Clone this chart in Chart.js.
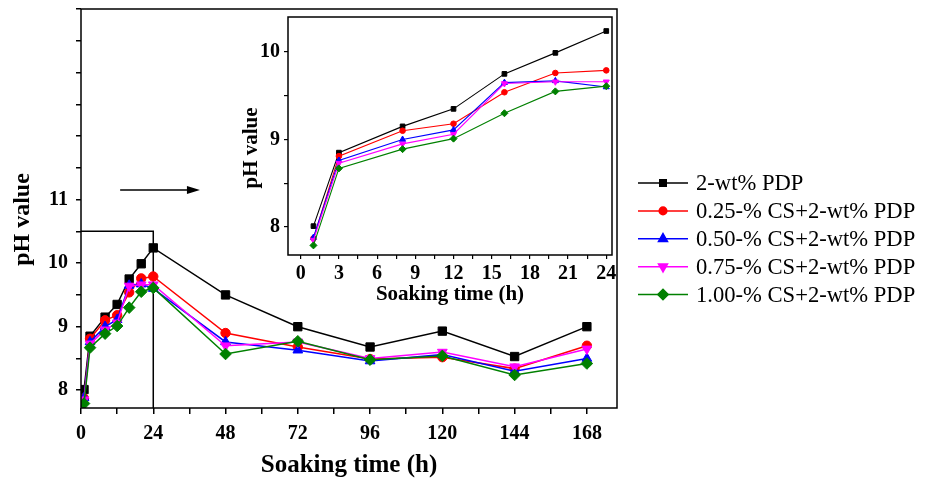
<!DOCTYPE html>
<html>
<head>
<meta charset="utf-8">
<script src="https://cdn.jsdelivr.net/npm/chart.js@4.4.1/dist/chart.umd.min.js"></script>
<style>
  html, body { margin: 0; padding: 0; background: #fff; }
  #wrap  { position: relative; width: 928px; height: 478px; overflow: hidden; }
  #main  { position: absolute; left: 0; top: 0; }
  #inset { position: absolute; left: 230px; top: 12px; }
</style>
</head>
<body>
<div id="wrap">
  <canvas id="main" width="928" height="478"></canvas>
  <canvas id="inset" width="390" height="300"></canvas>
</div>
<script>
// ─── data ────────────────────────────────────────────────────────────────────
const time   = [1, 3, 8, 12, 16, 20, 24, 48, 72, 96, 120, 144, 168];
const pdp    = [8.01, 8.85, 9.15, 9.35, 9.75, 9.99, 10.24, 9.50, 9.00, 8.68, 8.93, 8.53, 9.00];
const cs025  = [7.87, 8.81, 9.10, 9.18, 9.54, 9.76, 9.79, 8.90, 8.68, 8.49, 8.52, 8.34, 8.70];
const cs050  = [7.88, 8.76, 9.00, 9.11, 9.65, 9.67, 9.60, 8.76, 8.63, 8.46, 8.56, 8.30, 8.50];
const cs075  = [7.85, 8.73, 8.95, 9.06, 9.64, 9.66, 9.66, 8.70, 8.76, 8.50, 8.60, 8.37, 8.65];
const cs100  = [7.79, 8.67, 8.89, 9.01, 9.30, 9.55, 9.61, 8.57, 8.77, 8.48, 8.54, 8.24, 8.42];
const seriesNames = ['2-wt% PDP', '0.25-% CS+2-wt% PDP', '0.50-% CS+2-wt% PDP', '0.75-% CS+2-wt% PDP', '1.00-% CS+2-wt% PDP'];
const seriesData  = [pdp, cs025, cs050, cs075, cs100];
const insetCount  = 7; // first 24 h

// tick marks / labels
const mainXTicks  = [0, 12, 24, 36, 48, 60, 72, 84, 96, 108, 120, 132, 144, 156, 168];
const mainXLabels = [0, 24, 48, 72, 96, 120, 144, 168];
const mainYTicks  = [8, 8.5, 9, 9.5, 10, 10.5, 11, 11.5, 12, 12.5, 13, 13.5, 14];
const mainYLabels = [8, 9, 10, 11];
const insetXTicks  = [0, 1.5, 3, 4.5, 6, 7.5, 9, 10.5, 12, 13.5, 15, 16.5, 18, 19.5, 21, 22.5, 24];
const insetXLabels = [0, 3, 6, 9, 12, 15, 18, 21, 24];
const insetYTicks  = [8, 8.5, 9, 9.5, 10];
const insetYLabels = [8, 9, 10];

// zoom box (0–24 h) and arrow, in data units
const zoomBoxX = [0, 24, 24];
const zoomBoxY = [10.5, 10.5, 7.7];
const arrowX   = [13, 39.5];
const arrowY   = 11.15;

// ─── styles ──────────────────────────────────────────────────────────────────
const SERIF  = "'Times New Roman', 'Liberation Serif', serif";
const COLORS = ['#000000', '#ff0000', '#0000ff', '#ff00ff', '#008000'];
const SHAPES = ['rect', 'circle', 'triangle', 'triangle', 'rectRot'];
const ROTS   = [0, 0, 0, 180, 0];
const R_MAIN  = [5.9, 4.7, 5.6, 5.6, 5.8];
const R_INSET = [3.3, 2.8, 3.5, 3.5, 3.5];
const R_LEG   = [4.6, 3.8, 5.2, 5.2, 5.2];

Chart.defaults.color = '#000';
Chart.defaults.font.family = SERIF;

const pts = (vals, n) => time.slice(0, n).map((t, i) => ({ x: t, y: vals[i] }));

function makeSets(n, radius, lw) {
  return seriesData.map((vals, i) => ({
    label: seriesNames[i],
    data: pts(vals, n),
    borderColor: COLORS[i], backgroundColor: COLORS[i],
    pointBorderColor: COLORS[i], pointBackgroundColor: COLORS[i],
    pointStyle: SHAPES[i], pointRotation: ROTS[i],
    pointRadius: radius[i], pointBorderWidth: 1,
    borderWidth: lw, tension: 0, order: 5 - i,
  }));
}

// fixed tick list, labels on a subset; no extra label overflow padding
const tickAxis = (ticks, labels, size, pad) => ({
  afterBuildTicks: s => { s.ticks = ticks.map(v => ({ value: v })); },
  ticks: {
    autoSkip: false, maxRotation: 0, padding: pad,
    font: { family: SERIF, size, weight: 'bold' },
    callback: v => labels.includes(v) ? String(v) : '',
  },
});
const fixSize = (w, h) => s => {
  if (w) s.width = w;
  if (h) s.height = h;
  s.paddingTop = 0; s.paddingBottom = 0; s.paddingLeft = 0; s.paddingRight = 0;
};

// ─── plugins ─────────────────────────────────────────────────────────────────
const framePlugin = {
  id: 'frame',
  beforeDraw(chart, args, o) {
    if (!o.fill) return;
    const a = chart.chartArea, ctx = chart.ctx;
    ctx.save(); ctx.fillStyle = o.fill;
    ctx.fillRect(a.left, a.top, a.right - a.left, a.bottom - a.top);
    ctx.restore();
  },
  afterDatasetsDraw(chart, args, o) {
    const a = chart.chartArea, ctx = chart.ctx;
    ctx.save(); ctx.strokeStyle = '#000'; ctx.lineWidth = o.width || 1.5;
    ctx.strokeRect(a.left, a.top, a.right - a.left, a.bottom - a.top);
    ctx.restore();
  },
};

// rotated y title, a bit below the plot centre as in the figure
const yTitlePlugin = {
  id: 'yTitle',
  afterDraw(chart, args, o) {
    const a = chart.chartArea, ctx = chart.ctx;
    ctx.save();
    ctx.translate(o.x, (a.top + a.bottom) / 2 + o.dy);
    ctx.rotate(-Math.PI / 2);
    ctx.font = `bold ${o.size}px ${SERIF}`;
    ctx.fillStyle = '#000'; ctx.textAlign = 'center'; ctx.textBaseline = 'middle';
    ctx.fillText(o.text, 0, 0);
    ctx.restore();
  },
};

const arrowPlugin = {
  id: 'arrow',
  afterDraw(chart) {
    const { x, y } = chart.scales, ctx = chart.ctx;
    const x0 = x.getPixelForValue(arrowX[0]), x1 = x.getPixelForValue(arrowX[1]);
    const yy = y.getPixelForValue(arrowY);
    ctx.save();
    ctx.strokeStyle = '#000'; ctx.fillStyle = '#000'; ctx.lineWidth = 1.6;
    ctx.beginPath(); ctx.moveTo(x0, yy); ctx.lineTo(x1 - 8, yy); ctx.stroke();
    ctx.beginPath(); ctx.moveTo(x1, yy); ctx.lineTo(x1 - 13, yy - 4); ctx.lineTo(x1 - 13, yy + 4); ctx.closePath(); ctx.fill();
    ctx.restore();
  },
};

const legendPlugin = {
  id: 'sideLegend',
  afterDraw(chart) {
    const ctx = chart.ctx;
    const x0 = 638, x1 = 688, tx = 696, y0 = 183, dy = 27.9;
    ctx.save();
    ctx.font = `22.6px ${SERIF}`; ctx.textBaseline = 'middle'; ctx.textAlign = 'left';
    seriesNames.forEach((name, i) => {
      const yy = y0 + i * dy;
      ctx.strokeStyle = COLORS[i]; ctx.lineWidth = 1.5;
      ctx.beginPath(); ctx.moveTo(x0, yy); ctx.lineTo(x1, yy); ctx.stroke();
      ctx.fillStyle = COLORS[i];
      Chart.helpers.drawPoint(ctx, { pointStyle: SHAPES[i], rotation: ROTS[i], radius: R_LEG[i], borderWidth: 1 }, (x0 + x1) / 2, yy);
      ctx.fillStyle = '#000';
      ctx.fillText(name, tx, yy + 1);
    });
    ctx.restore();
  },
};

// ─── main chart: 0–168 h ─────────────────────────────────────────────────────
const mainSets = makeSets(time.length, R_MAIN, 1.5);
mainSets.push({
  label: 'zoom', data: zoomBoxX.map((v, i) => ({ x: v, y: zoomBoxY[i] })),
  borderColor: '#000', borderWidth: 1.5, pointRadius: 0, order: 10, tension: 0,
});

new Chart(document.getElementById('main'), {
  type: 'line',
  data: { datasets: mainSets },
  plugins: [framePlugin, arrowPlugin, legendPlugin, yTitlePlugin],
  options: {
    responsive: false, animation: false, events: [],
    layout: { padding: { left: 0, top: 9, right: 311, bottom: 0 } },
    plugins: {
      legend: { display: false }, tooltip: { enabled: false }, frame: { width: 1.5 },
      yTitle: { text: 'pH value', size: 24, x: 23, dy: 11 },
    },
    scales: {
      x: {
        type: 'linear', min: 0, max: 178,
        ...tickAxis(mainXTicks, mainXLabels, 20, 8),
        afterFit: fixSize(0, 70),
        grid: { drawOnChartArea: false, color: '#000', lineWidth: 1.5, tickLength: 6 },
        border: { display: false },
        title: { display: true, text: 'Soaking time (h)', font: { size: 25, weight: 'bold', lineHeight: 1 }, padding: { top: 0, bottom: 0 } },
      },
      y: {
        type: 'linear', min: 7.72, max: 14,
        ...tickAxis(mainYTicks, mainYLabels, 20, 8),
        afterFit: fixSize(81, 0),
        grid: { drawOnChartArea: false, color: '#000', lineWidth: 1.5, tickLength: 5 },
        border: { display: false },
      },
    },
  },
});

// ─── inset: 0–24 h ───────────────────────────────────────────────────────────
new Chart(document.getElementById('inset'), {
  type: 'line',
  data: { datasets: makeSets(insetCount, R_INSET, 1.1) },
  plugins: [framePlugin, yTitlePlugin],
  options: {
    responsive: false, animation: false, events: [],
    layout: { padding: { left: 0, top: 3, right: 8, bottom: 0 } },
    plugins: {
      legend: { display: false }, tooltip: { enabled: false }, frame: { width: 1.5, fill: '#fff' },
      yTitle: { text: 'pH value', size: 21, x: 22, dy: 12 },
    },
    scales: {
      x: {
        type: 'linear', min: -1, max: 24.45,
        ...tickAxis(insetXTicks, insetXLabels, 20, 3),
        afterFit: fixSize(0, 57),
        grid: { drawOnChartArea: false, color: '#000', lineWidth: 1.2, tickLength: 4 },
        border: { display: false },
        title: { display: true, text: 'Soaking time (h)', font: { size: 21, weight: 'bold', lineHeight: 1 }, padding: { top: 7, bottom: 7 } },
      },
      y: {
        type: 'linear', min: 7.68, max: 10.4,
        ...tickAxis(insetYTicks, insetYLabels, 20, 4),
        afterFit: fixSize(58, 0),
        grid: { drawOnChartArea: false, color: '#000', lineWidth: 1.2, tickLength: 4 },
        border: { display: false },
      },
    },
  },
});
</script>
</body>
</html>
